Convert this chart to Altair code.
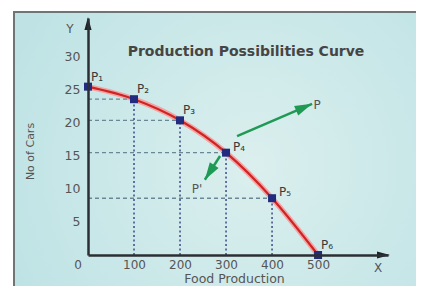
import altair as alt
import pandas as pd

# ---- data ----
food = [0, 100, 200, 300, 400, 500]
cars = [25.5, 23.6, 20.4, 15.5, 8.6, 0]
point_labels = ["P₁", "P₂", "P₃", "P₄", "P₅", "P₆"]
label_group = ["a", "a", "a", "b", "b", "a"]
x_ticks = [100, 200, 300, 400, 500]
y_ticks = [5, 10, 15, 20, 25, 30]

arrow_names = ["P", "P'"]
arrow_x0 = [324, 287]
arrow_y0 = [18.0, 15.0]
arrow_x1 = [487, 254]
arrow_y1 = [22.9, 11.4]
arrow_angle = [66.7, 212.6]
arrow_label_x = [498, 237]
arrow_label_y = [22.7, 10.0]

W, H = 300, 237
XMAX, YMAX = 652, 35.9
FONT = "DejaVu Sans"

pts = pd.DataFrame({"food": food, "cars": cars, "lab": point_labels,
                    "grp": label_group, "z": [0] * len(food)})
inner = pts.iloc[1:5]
arrows = pd.DataFrame({"name": arrow_names, "x0": arrow_x0, "y0": arrow_y0,
                       "x1": arrow_x1, "y1": arrow_y1, "angle": arrow_angle,
                       "lx": arrow_label_x, "ly": arrow_label_y})
origin = pd.DataFrame({"ox": [0], "oy": [0], "t": ["0"]})
one = pd.DataFrame({"k": [1]})

xs = alt.Scale(domain=[0, XMAX], nice=False, zero=False)
ys = alt.Scale(domain=[0, YMAX], nice=False, zero=False)

x_axis = alt.Axis(values=x_ticks, title="Food Production", grid=False, ticks=False,
                  domainColor="#2b2f33", domainWidth=2.5, labelFont=FONT,
                  labelFontSize=12, labelColor="#555555", labelPadding=4,
                  titleFont=FONT, titleFontSize=12.5, titleFontWeight="normal",
                  titleColor="#555555", titleX=146, titleY=17, titleAlign="center",
                  titleBaseline="top", zindex=1)
y_axis = alt.Axis(values=y_ticks, title="No of Cars", grid=False, ticks=False,
                  domainColor="#2b2f33", domainWidth=2.5, labelFont=FONT,
                  labelFontSize=12.5, labelColor="#555555", labelPadding=8,
                  titleFont=FONT, titleFontSize=11, titleFontWeight="normal",
                  titleColor="#555555", titleX=-58, titleY=133, titleAngle=270,
                  titleAlign="center", titleBaseline="middle", zindex=1)

X = lambda f: alt.X(f, type="quantitative", scale=xs, axis=x_axis)
Y = lambda f: alt.Y(f, type="quantitative", scale=ys, axis=y_axis)

bg = alt.Chart(one).mark_rect(
    fill=alt.RadialGradient(gradient="radial",
                            stops=[alt.GradientStop(color="#dbefee", offset=0),
                                   alt.GradientStop(color="#bfe3e5", offset=1)],
                            x1=0.55, y1=0.5, r1=0, x2=0.55, y2=0.5, r2=0.6),
    stroke="#6f7475", strokeWidth=2
).encode(x=alt.value(-74), x2=alt.value(360), y=alt.value(-6), y2=alt.value(300))

hdash = alt.Chart(inner).mark_rule(color="#6a8796", strokeDash=[4, 3], strokeWidth=1.3).encode(
    x=X("z"), x2=alt.X2("food"), y=Y("cars"))
vdash = alt.Chart(inner).mark_rule(color="#3c4a88", strokeDash=[2, 2.5], strokeWidth=1.5).encode(
    x=X("food"), y=Y("z"), y2=alt.Y2("cars"))

halo = alt.Chart(pts).mark_line(color="#f3a3a3", strokeWidth=5.5, interpolate="monotone").encode(
    x=X("food"), y=Y("cars"))
curve = alt.Chart(pts).mark_line(color="#cf2424", strokeWidth=2.2, interpolate="monotone").encode(
    x=X("food"), y=Y("cars"))
dots = alt.Chart(pts).mark_square(color="#222b7e", size=64, opacity=1).encode(
    x=X("food"), y=Y("cars"))

lab_a = alt.Chart(pts).transform_filter(alt.datum.grp == "a").mark_text(
    align="left", baseline="middle", dx=3, dy=-10, font=FONT, fontSize=12, color="#3a3a3a"
).encode(x=X("food"), y=Y("cars"), text="lab:N")
lab_b = alt.Chart(pts).transform_filter(alt.datum.grp == "b").mark_text(
    align="left", baseline="middle", dx=7, dy=-6, font=FONT, fontSize=12, color="#3a3a3a"
).encode(x=X("food"), y=Y("cars"), text="lab:N")

GREEN = "#1f9a55"
arrow_lines = alt.Chart(arrows).mark_rule(color=GREEN, strokeWidth=2.5).encode(
    x=X("x0"), y=Y("y0"), x2=alt.X2("x1"), y2=alt.Y2("y1"))
arrow_heads = alt.Chart(arrows).mark_point(
    shape="M0,0L0.6,2L-0.6,2Z", filled=True, color=GREEN, opacity=1, size=300
).encode(x=X("x1"), y=Y("y1"), angle=alt.Angle("angle:Q", scale=None))
arrow_text = alt.Chart(arrows).mark_text(
    align="center", baseline="middle", font=FONT, fontSize=12, color="#555555"
).encode(x=X("lx"), y=Y("ly"), text="name:N")

AX_SHAPE = "M0,0L0.55,2L-0.55,2Z"
y_head = alt.Chart(one).mark_point(shape=AX_SHAPE, filled=True, color="#1f2326",
                                   opacity=1, size=169, angle=0).encode(
    x=alt.value(0), y=alt.value(-1))
x_head = alt.Chart(one).mark_point(shape=AX_SHAPE, filled=True, color="#1f2326",
                                   opacity=1, size=169, angle=90).encode(
    x=alt.value(302), y=alt.value(H))

zero = alt.Chart(origin).mark_text(font=FONT, fontSize=12, color="#555555",
                                   align="center", baseline="middle", dx=-10, dy=10).encode(
    x=X("ox"), y=Y("oy"), text="t:N")
y_letter = alt.Chart(one).mark_text(font=FONT, fontSize=12, color="#555555",
                                    align="center", baseline="middle").encode(
    x=alt.value(-18), y=alt.value(11), text=alt.value("Y"))
x_letter = alt.Chart(one).mark_text(font=FONT, fontSize=12, color="#555555",
                                    align="center", baseline="middle").encode(
    x=alt.value(290), y=alt.value(250), text=alt.value("X"))
title = alt.Chart(one).mark_text(font=FONT, fontSize=14, fontWeight="bold", color="#454545",
                                 align="center", baseline="middle").encode(
    x=alt.value(158), y=alt.value(34), text=alt.value("Production Possibilities Curve"))

chart = alt.layer(
    bg, halo, hdash, vdash, curve, dots, lab_a, lab_b,
    arrow_lines, arrow_heads, arrow_text, y_head, x_head, zero, y_letter, x_letter, title
).properties(
    width=W, height=H, autosize="none",
    padding={"left": 80, "top": 10, "right": 28, "bottom": 31},
    background="white"
).configure_view(stroke=None)

chart.save("out.html", embed_options={"renderer": "svg", "actions": False})
